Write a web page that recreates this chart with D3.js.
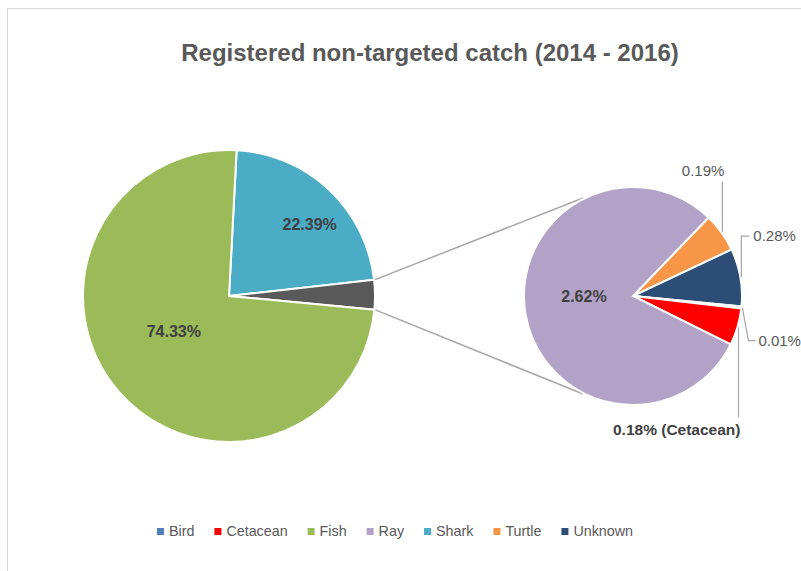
<!DOCTYPE html>
<html>
<head>
<meta charset="utf-8">
<script src="https://cdn.jsdelivr.net/npm/d3@7"></script>
<style>
  body { margin: 0; background: #fff; }
  svg { display: block; font-family: "Liberation Sans", Arial, sans-serif; }
</style>
</head>
<body>
<div id="chart"></div>
<script>
// data (percent of all registered non-targeted catch)
const categories = ["Bird", "Cetacean", "Fish", "Ray", "Shark", "Turtle", "Unknown"];
const shares = [0.01, 0.18, 74.33, 2.62, 22.39, 0.19, 0.28];
const colors = ["#4f81bd", "#ff0000", "#9bbb59", "#b3a2c7", "#4bacc6", "#f79646", "#2c4d75"];
const mainOrder = ["Shark", "Other", "Fish"];
const secondOrder = ["Turtle", "Unknown", "Bird", "Cetacean", "Ray"];
const titleText = "Registered non-targeted catch (2014 - 2016)";

document.addEventListener("DOMContentLoaded", () => {
  const width = 801, height = 571;
  const deg = Math.PI / 180;

  const svg = d3.select("#chart").append("svg")
    .attr("width", width)
    .attr("height", height);

  // chart frame (runs past the right/bottom edge like the screenshot)
  svg.append("rect")
    .attr("x", 7.5).attr("y", 8.5)
    .attr("width", 900).attr("height", 700)
    .attr("fill", "none")
    .attr("stroke", "#d9d9d9");

  svg.append("text")
    .attr("x", 430).attr("y", 61)
    .attr("text-anchor", "middle")
    .attr("font-size", 24)
    .attr("font-weight", "bold")
    .attr("fill", "#595959")
    .text(titleText);

  const byName = {};
  categories.forEach((c, i) => byName[c] = { name: c, value: shares[i], color: colors[i] });
  byName.Other = {
    name: "Other",
    value: d3.sum(secondOrder, n => byName[n].value),
    color: "#595959"
  };

  const fmt = v => d3.format(".2f")(v) + "%";

  // ---- main pie
  const c1 = [229, 296], r1 = 146;
  const start1 = 3 * deg;
  const pie1 = d3.pie().sort(null).value(d => d.value)
    .startAngle(start1).endAngle(start1 + 2 * Math.PI);
  const arc1 = d3.arc().innerRadius(0).outerRadius(r1);
  const arcs1 = pie1(mainOrder.map(n => byName[n]));

  const g1 = svg.append("g").attr("transform", `translate(${c1})`);
  g1.selectAll("path")
    .data(arcs1)
    .enter().append("path")
    .attr("d", arc1)
    .attr("fill", d => d.data.color)
    .attr("stroke", "#fff")
    .attr("stroke-width", 2);

  const innerLabelR = { Fish: 0.45, Shark: 0.74, Ray: 0.45 };
  const innerShift = { Fish: 8 * deg, Shark: 5 * deg, Ray: 10 * deg };

  function innerLabel(g, arcs, r) {
    g.selectAll("text.inner")
      .data(arcs.filter(d => innerLabelR[d.data.name]))
      .enter().append("text")
      .attr("class", "inner")
      .attr("transform", d => {
        const a = (d.startAngle + d.endAngle) / 2 + innerShift[d.data.name];
        const rr = r * innerLabelR[d.data.name];
        return `translate(${rr * Math.sin(a)},${-rr * Math.cos(a)})`;
      })
      .attr("text-anchor", "middle")
      .attr("dy", "0.35em")
      .attr("font-size", 16)
      .attr("font-weight", "bold")
      .attr("fill", "#404040")
      .text(d => fmt(d.data.value));
  }
  innerLabel(g1, arcs1, r1);

  // ---- secondary pie
  const c2 = [633, 296], r2 = 109;
  const start2 = 43.9 * deg;
  const pie2 = d3.pie().sort(null).value(d => d.value)
    .startAngle(start2).endAngle(start2 + 2 * Math.PI);
  const arc2 = d3.arc().innerRadius(0).outerRadius(r2);
  const arcs2 = pie2(secondOrder.map(n => byName[n]));

  // connector lines between the "Other" slice and the secondary pie
  const other = arcs1.find(d => d.data.name === "Other");
  const pt = (c, r, a) => [c[0] + r * Math.sin(a), c[1] - r * Math.cos(a)];
  const joins = [
    [pt(c1, r1 + 1, other.startAngle), pt(c2, r2 + 1, -27 * deg)],
    [pt(c1, r1 + 1, other.endAngle), pt(c2, r2 + 1, 207 * deg)]
  ];
  svg.selectAll("line.join")
    .data(joins)
    .enter().append("line")
    .attr("class", "join")
    .attr("x1", d => d[0][0]).attr("y1", d => d[0][1])
    .attr("x2", d => d[1][0]).attr("y2", d => d[1][1])
    .attr("stroke", "#a6a6a6")
    .attr("stroke-width", 1.5);

  const g2 = svg.append("g").attr("transform", `translate(${c2})`);
  g2.selectAll("path")
    .data(arcs2)
    .enter().append("path")
    .attr("d", arc2)
    .attr("fill", d => d.data.color)
    .attr("stroke", "#fff")
    .attr("stroke-width", 2);

  innerLabel(g2, arcs2, r2);

  // outside labels with leader lines: steps from slice edge, then label placement
  const leaders = {
    Turtle:   { steps: [[0, -50]], anchor: "end", dx: 2, dy: -6, bold: false },
    Unknown:  { steps: [[0, -41], [8, 0]], anchor: "start", dx: 4, dy: 5, bold: false },
    Bird:     { steps: [[6, 33], [7, 0]], anchor: "start", dx: 3, dy: 5, bold: false },
    Cetacean: { steps: [[0, 90]], anchor: "end", dx: 2, dy: 18, bold: true, suffix: " (Cetacean)" }
  };

  arcs2.filter(d => leaders[d.data.name]).forEach(d => {
    const L = leaders[d.data.name];
    const a = (d.startAngle + d.endAngle) / 2;
    let p = pt(c2, r2 + 1, a);
    const pts = [p];
    L.steps.forEach(s => { p = [p[0] + s[0], p[1] + s[1]]; pts.push(p); });
    svg.append("path")
      .attr("d", d3.line()(pts))
      .attr("fill", "none")
      .attr("stroke", "#a6a6a6")
      .attr("stroke-width", 1.2);
    svg.append("text")
      .attr("x", p[0] + L.dx)
      .attr("y", p[1] + L.dy)
      .attr("text-anchor", L.anchor)
      .attr("font-size", L.bold ? 15.5 : 15)
      .attr("font-weight", L.bold ? "bold" : "normal")
      .attr("fill", L.bold ? "#404040" : "#595959")
      .text(fmt(d.data.value) + (L.suffix || ""));
  });

  // ---- legend
  const legend = svg.append("g");
  let lx = 0;
  categories.forEach((c, i) => {
    const item = legend.append("g").attr("transform", `translate(${lx},0)`);
    item.append("rect")
      .attr("x", 0).attr("y", -8)
      .attr("width", 7).attr("height", 7)
      .attr("fill", colors[i]);
    const t = item.append("text")
      .attr("x", 12).attr("y", 0)
      .attr("font-size", 14.3)
      .attr("fill", "#595959")
      .text(c);
    lx += 12 + t.node().getComputedTextLength() + 20;
  });
  const legendW = lx - 20;
  legend.attr("transform", `translate(${395 - legendW / 2},536)`);
});
</script>
</body>
</html>
